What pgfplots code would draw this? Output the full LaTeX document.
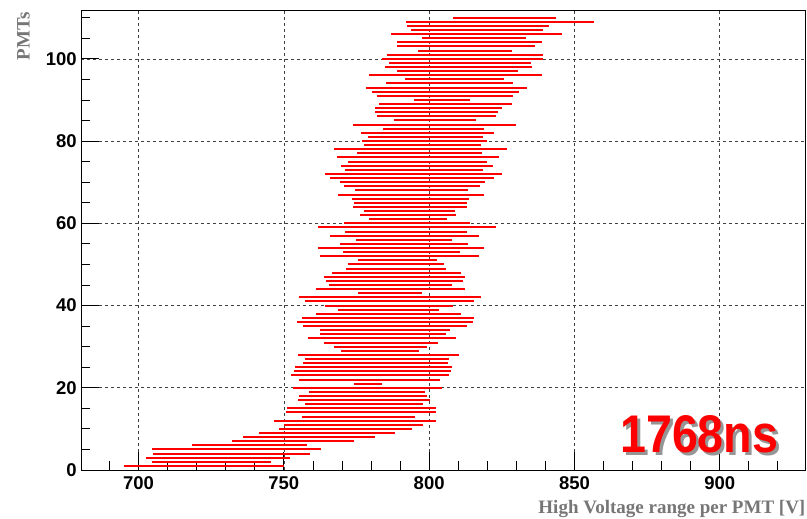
\documentclass[border=0pt]{standalone}
\usepackage{pgfplots}
\pgfplotsset{compat=1.18}
\usepackage{fontspec}
\setmainfont{Liberation Sans}
\newfontfamily\serifb{Liberation Serif}
\definecolor{labgray}{RGB}{118,118,118}
\definecolor{shadowgray}{RGB}{150,150,150}
\definecolor{segred}{RGB}{255,0,0}
\begin{document}
\begin{tikzpicture}[x=1pt,y=1pt]
\path[use as bounding box] (-81.3,-49) rectangle (725.7,470);
\begin{axis}[
  at={(0pt,0pt)}, anchor=south west,
  scale only axis, width=724.2pt, height=459.7pt,
  xmin=680.3, xmax=929.5, ymin=0, ymax=111.8,
  xtick={700,750,...,900}, minor xtick={690,700,...,920},
  ytick={0,20,...,100}, minor ytick={5,10,...,110},
  grid=major,
  major grid style={dash pattern=on 3pt off 3pt, black!75, line width=0.6pt},
  tick align=inside, xtick pos=bottom, ytick pos=left,
  major tick length=18pt, minor tick length=9pt,
  tick style={black, line width=0.8pt},
  axis line style={line width=0.8pt},
  /pgf/number format/assume math mode=true,
  ticklabel style={font=\bfseries\fontsize{18.5}{20}\selectfont},
  xticklabel style={yshift=-3pt},
  yticklabel style={xshift=-1pt},
  clip=false,
]
\foreach \y/\a/\b in {
1/695.0/750.0, 2/704.8/745.6, 3/702.6/752.1, 4/705.0/759.1, 5/704.8/762.8,
6/718.3/758.1, 7/732.0/774.0, 8/736.0/781.5, 9/741.5/788.3, 10/748.2/794.2,
11/750.0/797.9, 12/746.5/802.3, 13/756.2/795.0, 14/750.7/802.3, 15/751.0/802.3,
16/757.2/797.8, 17/754.7/800.2, 18/755.3/799.3, 19/758.7/798.6, 20/753.0/804.3,
21/774.2/783.6, 22/755.2/803.7, 23/752.5/806.7, 24/753.6/807.4, 25/754.0/808.0,
26/756.5/806.4, 27/757.2/806.7, 28/754.7/810.4, 29/769.7/796.4, 30/767.1/799.4,
31/763.9/803.0, 32/758.4/809.2, 33/762.4/805.7, 34/762.4/807.2, 35/756.5/812.9,
36/754.4/815.1, 37/756.1/815.5, 38/761.2/810.8, 39/768.6/803.4, 40/764.1/808.2,
41/757.2/815.6, 42/755.3/817.7, 43/775.5/797.5, 44/760.9/812.3, 45/765.6/807.8,
46/764.5/811.5, 47/763.9/812.2, 48/766.4/810.8, 49/771.5/805.7, 50/772.2/805.2,
51/775.5/802.7, 52/762.3/817.0, 53/770.4/810.5, 54/761.9/818.8, 55/769.4/813.3,
56/774.9/807.8, 57/766.0/817.0, 58/771.2/812.9, 59/761.7/822.9, 60/770.6/814.0,
61/779.3/806.1, 62/776.3/809.3, 63/777.5/808.9, 64/773.8/813.0, 65/774.2/812.9,
66/773.5/813.6, 67/768.7/818.8, 68/774.5/813.2, 69/770.8/817.4, 70/769.4/819.2,
71/765.9/822.2, 72/764.0/825.0, 73/771.2/818.5, 74/769.8/821.8, 75/771.9/820.0,
76/768.2/823.9, 77/775.2/818.2, 78/767.1/826.9, 79/777.7/817.7, 80/777.0/819.9,
81/778.8/818.4, 82/776.6/822.2, 83/784.0/818.7, 84/773.7/829.8, 85/787.9/816.0,
86/782.2/822.9, 87/781.5/823.7, 88/781.4/825.1, 89/782.9/828.6, 90/794.7/814.0,
91/782.2/828.7, 92/780.4/830.9, 93/778.4/833.8, 94/785.1/828.7, 95/791.7/825.8,
96/779.2/838.7, 97/789.1/830.5, 98/784.7/835.3, 99/786.2/834.9, 100/783.7/839.2,
101/785.5/839.0, 102/796.0/828.4, 103/789.1/836.4, 104/789.1/838.7, 105/797.5/833.2,
106/786.9/845.6, 107/793.9/839.0, 108/792.4/841.2, 109/792.0/856.6, 110/808.2/843.8}{
  \edef\seg{\noexpand\addplot[draw=segred, line width=2.0pt, line cap=butt, forget plot] coordinates {(\a,\y) (\b,\y)};}
  \seg
}
\end{axis}
\node[anchor=north east, inner sep=0pt, text=labgray, font=\serifb\bfseries\fontsize{19}{21}\selectfont] at (724.2,-30) {High Voltage range per PMT [V]};
\node[rotate=90, anchor=south east, inner sep=0pt, text=labgray, font=\serifb\bfseries\fontsize{19}{21}\selectfont] at (-51.3,458) {PMTs};
\node[anchor=base west, inner sep=0pt, xscale=0.88, text=shadowgray, font=\bfseries\fontsize{53}{60}\selectfont] at (541.7,14) {1768ns};
\node[anchor=base west, inner sep=0pt, xscale=0.88, text=red, font=\bfseries\fontsize{53}{60}\selectfont] at (538.7,17) {1768ns};
\end{tikzpicture}
\end{document}
